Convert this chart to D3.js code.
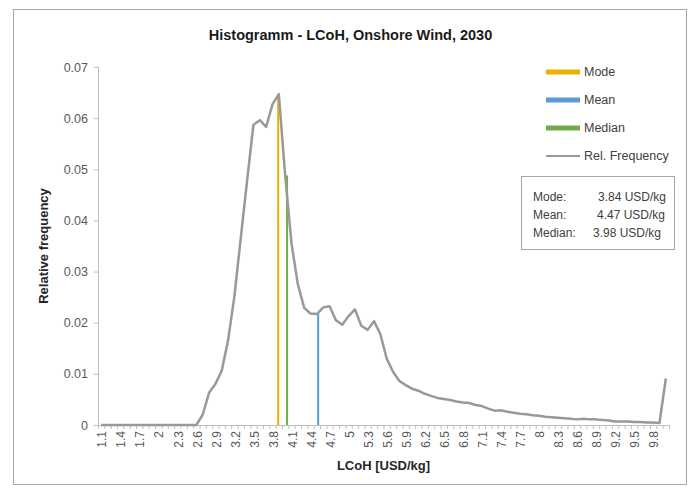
<!DOCTYPE html>
<html><head><meta charset="utf-8">
<script src="https://cdn.jsdelivr.net/npm/d3@7"></script>
<style>
body{margin:0;background:#fff}
text{font-family:"Liberation Sans",Arial,sans-serif}
</style>
</head><body><svg id="c" width="693" height="494"></svg>
<script>
// Category labels (upper edge of each LCoH bin, USD/kg)
const categories = ["1.1","1.2","1.3","1.4","1.5","1.6","1.7","1.8","1.9","2",
"2.1","2.2","2.3","2.4","2.5","2.6","2.7","2.8","2.9","3",
"3.1","3.2","3.3","3.4","3.5","3.6","3.7","3.8","3.9","4",
"4.1","4.2","4.3","4.4","4.5","4.6","4.7","4.8","4.9","5",
"5.1","5.2","5.3","5.4","5.5","5.6","5.7","5.8","5.9","6",
"6.1","6.2","6.3","6.4","6.5","6.6","6.7","6.8","6.9","7",
"7.1","7.2","7.3","7.4","7.5","7.6","7.7","7.8","7.9","8",
"8.1","8.2","8.3","8.4","8.5","8.6","8.7","8.8","8.9","9",
"9.1","9.2","9.3","9.4","9.5","9.6","9.7","9.8","9.9","10"];

const relFrequency = [0,0,0,0,0,0,0,0,0,0,
0,0,0,0,0,0,0.0020,0.0063,0.0080,0.0106,
0.0165,0.0252,0.0365,0.0478,0.0587,0.0596,0.0583,0.0627,0.0647,0.0488,
0.0355,0.0275,0.0229,0.0218,0.0217,0.0230,0.0232,0.0205,0.0196,0.0213,
0.0226,0.0194,0.0186,0.0203,0.0178,0.0130,0.0104,0.0086,0.0078,0.0071,
0.0067,0.0061,0.0057,0.0053,0.0051,0.0049,0.0046,0.0044,0.0043,0.0039,
0.0037,0.0032,0.0028,0.0029,0.0026,0.0024,0.0022,0.0021,0.0019,0.0018,
0.0016,0.0015,0.0014,0.0013,0.0012,0.0011,0.0012,0.0011,0.0011,0.0010,
0.0009,0.0007,0.0007,0.0007,0.0006,0.0006,0.0005,0.0005,0.0004,0.0091];

const xTickLabels = ["1.1","1.4","1.7","2","2.3","2.6","2.9","3.2","3.5","3.8",
"4.1","4.4","4.7","5","5.3","5.6","5.9","6.2","6.5","6.8",
"7.1","7.4","7.7","8","8.3","8.6","8.9","9.2","9.5","9.8"];
const yTicks = [0,0.01,0.02,0.03,0.04,0.05,0.06,0.07];

const statNames = ["Mode","Mean","Median"];
const statValues = [3.84, 4.47, 3.98];
const statHeights = [0.0647, 0.0217, 0.0488];
const statColors = ["#E9B000","#5B9BD5","#70AD47"];
const freqColor = "#999999";

const title = "Histogramm - LCoH, Onshore Wind, 2030";
const xTitle = "LCoH [USD/kg]";
const yTitle = "Relative frequency";

const svg = d3.select("#c");
const L=98, R=669, T=67, B=425;
const binW = 0.1;

const x = d3.scaleLinear().domain([1.0, 10.0]).range([L, R]);
const y = d3.scaleLinear().domain([0, 0.07]).range([B, T]);
const cx = c => x(+c - binW/2);

// outer border
svg.append("rect").attr("x",13.5).attr("y",9.5).attr("width",673).attr("height",475)
  .attr("fill","none").attr("stroke","#a6a6a6");

// title
svg.append("text").attr("x",(L+R)/2 - 33).attr("y",40).attr("text-anchor","middle")
  .attr("font-size",14.5).attr("font-weight","bold").attr("fill","#1a1a1a").text(title);

// y axis
const yAxis = d3.axisLeft(y).tickValues(yTicks).tickSize(4).tickFormat(d=>d===0?"0":d3.format(".2f")(d));
const gy = svg.append("g").attr("transform",`translate(${L},0)`).call(yAxis);
gy.select(".domain").attr("stroke","#bfbfbf");
gy.selectAll(".tick line").attr("stroke","#bfbfbf");
gy.selectAll(".tick text").attr("font-size",12.5).attr("fill","#595959").attr("x",-10)
  .attr("font-family","Liberation Sans, Arial, sans-serif");

// x axis: ticks at bin boundaries
const boundaries = [1.0].concat(categories.map(c=>+c));
const xAxis = d3.axisBottom(x).tickValues(boundaries).tickSize(4).tickFormat("");
const gx = svg.append("g").attr("transform",`translate(0,${B})`).call(xAxis);
gx.select(".domain").attr("stroke","#bfbfbf");
gx.selectAll(".tick line").attr("stroke","#bfbfbf");

// x tick labels (rotated) at category centers
svg.append("g").selectAll("text").data(xTickLabels).join("text")
  .attr("transform",d=>`translate(${cx(d)+1},${B+6}) rotate(-90)`)
  .attr("text-anchor","end").attr("dy","0.35em")
  .attr("font-size",12).attr("fill","#595959").text(d=>d);

// axis titles
svg.append("text").attr("x",(L+R)/2).attr("y",470).attr("text-anchor","middle")
  .attr("font-size",13).attr("font-weight","bold").attr("fill","#262626").text(xTitle);
svg.append("text").attr("transform",`translate(48,${(T+B)/2}) rotate(-90)`)
  .attr("text-anchor","middle").attr("font-size",13).attr("font-weight","bold")
  .attr("fill","#262626").text(yTitle);

// stat lines
svg.append("g").selectAll("line").data(statValues).join("line")
  .attr("x1",d=>x(d)).attr("x2",d=>x(d))
  .attr("y1",y(0)).attr("y2",(d,i)=>y(statHeights[i]))
  .attr("stroke",(d,i)=>statColors[i]).attr("stroke-width",2);

// frequency curve
const line = d3.line().x((d,i)=>cx(categories[i])).y(d=>y(d));
svg.append("path").datum(relFrequency).attr("d",line)
  .attr("fill","none").attr("stroke",freqColor).attr("stroke-width",2.5)
  .attr("stroke-linejoin","round");

// legend
const legendItems = statNames.map((n,i)=>({name:n,color:statColors[i],w:5}))
  .concat([{name:"Rel. Frequency",color:freqColor,w:2}]);
const lg = svg.append("g");
legendItems.forEach((it,i)=>{
  const yy = 72 + i*28;
  lg.append("line").attr("x1",546).attr("x2",580).attr("y1",yy).attr("y2",yy)
    .attr("stroke",it.color).attr("stroke-width",it.w);
  lg.append("text").attr("x",584).attr("y",yy).attr("dy","0.35em")
    .attr("font-size",12.5).attr("fill","#404040").text(it.name);
});

// info box
svg.append("rect").attr("x",521.5).attr("y",176.5).attr("width",153).attr("height",73)
  .attr("fill","#fff").attr("stroke","#a6a6a6");
const info = svg.append("g");
const valueX = [598, 597, 593];
statNames.forEach((n,i)=>{
  const yy = 197 + i*18;
  info.append("text").attr("x",533).attr("y",yy).attr("dy","0.35em")
    .attr("font-size",12).attr("fill","#404040").text(n+":");
  info.append("text").attr("x",valueX[i]).attr("y",yy).attr("dy","0.35em")
    .attr("font-size",12).attr("fill","#404040")
    .text(d3.format(".2f")(statValues[i])+" USD/kg");
});
</script>
</body></html>
